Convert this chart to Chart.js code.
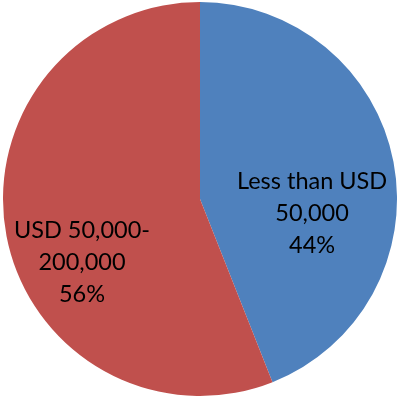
<!DOCTYPE html>
<html>
<head>
<meta charset="utf-8">
<script src="https://cdn.jsdelivr.net/npm/chart.js@4/dist/chart.umd.min.js"></script>
<style>
html,body{margin:0;padding:0;background:#fff;}
#wrap{width:397px;height:398px;}
</style>
</head>
<body>
<div id="wrap"><canvas id="c"></canvas></div>
<script>
const categories = ["Less than USD 50,000", "USD 50,000-200,000"];
const labelLines = [["Less than USD", "50,000"], ["USD 50,000-", "200,000"]];
const values = [44, 56];
const colors = ["#4F81BD", "#C0504D"];
// label placement as fractions of radius from centre (visual only)
const labelOffsets = [[0.569, 0.071], [-0.599, 0.32]];

const labelPlugin = {
  id: 'pieLabels',
  afterDatasetsDraw(chart) {
    const ctx = chart.ctx;
    const meta = chart.getDatasetMeta(0);
    const total = values.reduce((a, b) => a + b, 0);
    ctx.save();
    ctx.font = '23.5px Lato, "Open Sans", sans-serif';
    ctx.fillStyle = '#000';
    ctx.textAlign = 'center';
    ctx.textBaseline = 'middle';
    meta.data.forEach((arc, i) => {
      const r = arc.outerRadius;
      const cx = arc.x + labelOffsets[i][0] * r;
      const cy = arc.y + labelOffsets[i][1] * r;
      const lines = labelLines[i].concat([Math.round(values[i] / total * 100) + '%']);
      const lh = 32;
      lines.forEach((t, k) => {
        ctx.fillText(t, cx, cy + (k - (lines.length - 1) / 2) * lh);
      });
    });
    ctx.restore();
  }
};

new Chart(document.getElementById('c'), {
  type: 'pie',
  data: {
    labels: categories,
    datasets: [{
      data: values,
      backgroundColor: colors,
      borderWidth: 0
    }]
  },
  options: {
    responsive: true,
    maintainAspectRatio: false,
    animation: false,
    layout: { padding: { left: 3, right: 0, top: 2, bottom: 2 } },
    plugins: { legend: { display: false }, tooltip: { enabled: false } }
  },
  plugins: [labelPlugin]
});
</script>
</body>
</html>
